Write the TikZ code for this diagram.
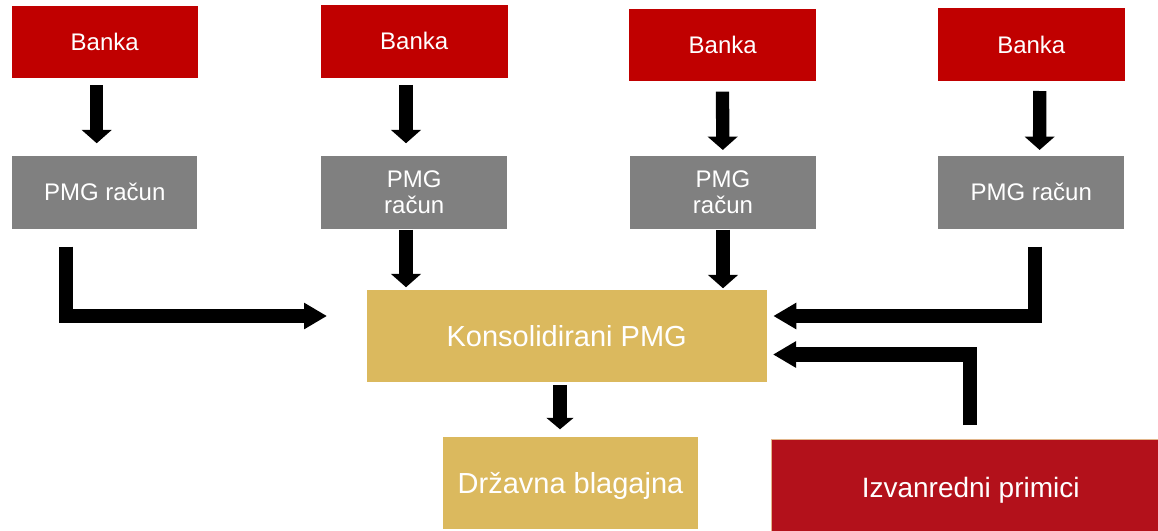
\documentclass[tikz,border=0pt]{standalone}
\usepackage{fontspec}
\setmainfont{Liberation Sans}
\usetikzlibrary{arrows.meta}
\definecolor{bankred}{HTML}{C00000}
\definecolor{pmggray}{HTML}{808080}
\definecolor{goldc}{HTML}{DBB95E}
\definecolor{izvred}{HTML}{B3111B}
\definecolor{izvedge}{HTML}{E2B58A}
\begin{document}
\begin{tikzpicture}[x=1pt,y=-1pt,
  box/.style={inner sep=0pt, outer sep=0pt, text=white, align=center,
              font=\fontsize{24}{26}\selectfont},
  bank/.style={box, fill=bankred},
  pmg/.style={box, fill=pmggray},
  goldbox/.style={box, fill=goldc, font=\fontsize{29}{32}\selectfont},
  izvbox/.style={box, fill=izvred, draw=izvedge, line width=0.8pt,
                 font=\fontsize{28}{32}\selectfont},
  fat/.style={line width=13.3pt, line cap=butt,
              -{Triangle[length=13.3pt,width=29.3pt]}},
  elbow/.style={line width=14.5pt, line cap=butt, line join=miter,
                -{Triangle[length=23pt,width=25pt]}}]
\useasboundingbox (0,0) rectangle (1158,530);
\fill[white] (0,0) rectangle (1158,530);

% Banks
\node[bank, minimum width=186pt, minimum height=72pt]   (b1) at (104.7,41.7) {Banka};
\node[bank, minimum width=187pt, minimum height=72.7pt] (b2) at (414.2,41.3) {Banka};
\node[bank, minimum width=186.7pt, minimum height=72.3pt] (b3) at (722.7,45.2) {Banka};
\node[bank, minimum width=187.3pt, minimum height=73pt] (b4) at (1031.3,44.8) {Banka};

% PMG accounts
\node[pmg, minimum width=185pt, minimum height=73.3pt]   (p1) at (104.7,192.3) {PMG račun};
\node[pmg, minimum width=186.3pt, minimum height=73.3pt] (p2) at (414.2,192.3) {PMG\\račun};
\node[pmg, minimum width=186pt, minimum height=73.3pt]   (p3) at (723,192.3) {PMG\\račun};
\node[pmg, minimum width=185.7pt, minimum height=73.3pt] (p4) at (1031.2,192.3) {PMG račun};

% Consolidated and bottom
\node[goldbox, minimum width=400pt, minimum height=91.7pt] (k) at (566.7,335.8) {Konsolidirani PMG};
\node[goldbox, minimum width=254.4pt, minimum height=91.8pt, text depth=0pt] (d) at (570.5,482.6) {Državna blagajna};
\node[izvbox, minimum width=398pt, minimum height=96pt, text depth=0pt] (z) at (970.7,487) {Izvanredni primici};

% Bank -> PMG arrows
\draw[fat] ([xshift=-8pt,yshift=-7.3pt]b1.south) -- ([xshift=-8pt,yshift=12.4pt]p1.north);
\draw[fat] ([xshift=-8.2pt,yshift=-7.3pt]b2.south) -- ([xshift=-8.2pt,yshift=12.4pt]p2.north);
\draw[fat] ([xshift=-0.2pt,yshift=-10.3pt]b3.south) -- ([xshift=-0.2pt,yshift=5.7pt]p3.north);
\draw[fat] ([xshift=8.4pt,yshift=-9.7pt]b4.south) -- ([xshift=8.4pt,yshift=5.7pt]p4.north);

% PMG -> Konsolidirani (straight)
\draw[fat] ([xshift=-8.2pt,yshift=-1pt]p2.south) -- ([xshift=-160.7pt,yshift=2.7pt]k.north);
\draw[fat] ([xshift=0pt,yshift=-1pt]p3.south) -- ([xshift=156.3pt,yshift=1.7pt]k.north);

% Elbow arrows
\draw[elbow] ([xshift=-38.7pt,yshift=-17.7pt]p1.south) |- ([xshift=-39.7pt,yshift=19.8pt]k.west);
\draw[elbow] ([xshift=3.8pt,yshift=-17.7pt]p4.south) |- ([xshift=6.6pt,yshift=19.8pt]k.east);
\draw[elbow] ([xshift=-0.7pt,yshift=14pt]z.north) |- ([xshift=6.3pt,yshift=-18.7pt]k.east);

% Konsolidirani -> Drzavna
\draw[line width=13.3pt, line cap=butt, -{Triangle[length=11.5pt,width=26.7pt]}]
  ([xshift=-6.7pt,yshift=-3.3pt]k.south) -- ([xshift=-10.5pt,yshift=7.4pt]d.north);
\end{tikzpicture}
\end{document}
